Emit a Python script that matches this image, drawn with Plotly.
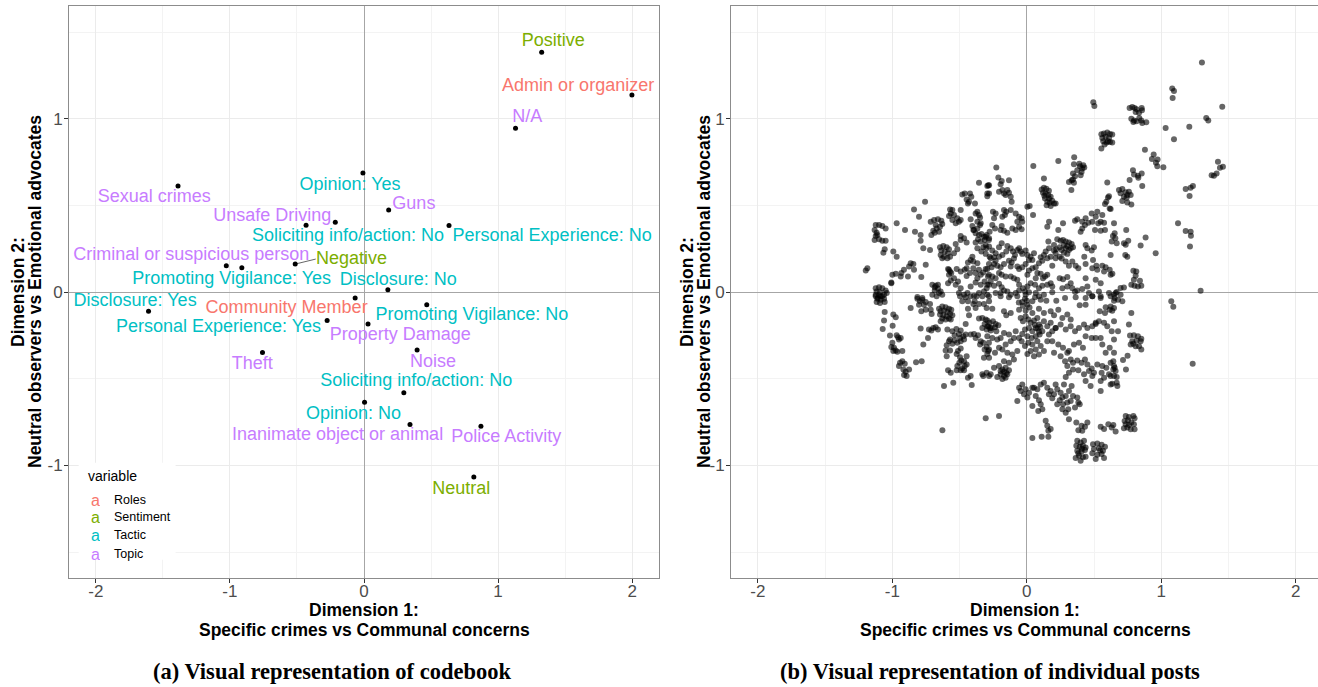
import plotly.graph_objects as go

# ---------------- categories / colours ----------------
categories = ["Roles", "Sentiment", "Tactic", "Topic"]
category_colors = ["#F8766D", "#7CAE00", "#00BFC4", "#C77CFF"]

# ---------------- panel (a): codebook ----------------
code_labels = [
    "Positive", "Admin or organizer", "N/A", "Opinion: Yes", "Sexual crimes",
    "Guns", "Unsafe Driving", "Soliciting info/action: No", "Personal Experience: No",
    "Criminal or suspicious person", "Negative", "Promoting Vigilance: Yes",
    "Disclosure: No", "Disclosure: Yes", "Community Member", "Promoting Vigilance: No",
    "Personal Experience: Yes", "Property Damage", "Theft", "Noise",
    "Soliciting info/action: No", "Opinion: No", "Inanimate object or animal",
    "Police Activity", "Neutral",
]
code_category = [
    "Sentiment", "Roles", "Topic", "Tactic", "Topic",
    "Topic", "Topic", "Tactic", "Tactic",
    "Topic", "Sentiment", "Tactic",
    "Tactic", "Tactic", "Roles", "Tactic",
    "Tactic", "Topic", "Topic", "Topic",
    "Tactic", "Tactic", "Topic",
    "Topic", "Sentiment",
]
code_x = [1.325, 1.998, 1.130, -0.008, -1.387, 0.184, -0.214, -0.432, 0.634,
          -1.027, -0.513, -0.911, 0.178, -1.607, -0.066, 0.468, -0.275, 0.030,
          -0.757, 0.396, 0.297, 0.004, 0.343, 0.872, 0.819]
code_y = [1.383, 1.136, 0.944, 0.686, 0.611, 0.473, 0.402, 0.385, 0.383,
          0.151, 0.161, 0.140, 0.013, -0.111, -0.035, -0.073, -0.165, -0.184,
          -0.349, -0.335, -0.581, -0.636, -0.765, -0.774, -1.067]
# repelled label positions
label_x = [1.411, 1.597, 1.217, -0.104, -1.564, 0.372, -0.684, -0.119, 1.403,
           -1.288, -0.093, -0.987, 0.256, -1.707, -0.577, 0.805, -1.085, 0.271,
           -0.833, 0.514, 0.390, -0.078, -0.197, 1.061, 0.726]
label_y = [1.446, 1.187, 1.009, 0.615, 0.546, 0.503, 0.438, 0.318, 0.318,
           0.213, 0.186, 0.071, 0.065, -0.057, -0.098, -0.136, -0.207, -0.251,
           -0.416, -0.406, -0.514, -0.705, -0.830, -0.839, -1.140]
# leader segment for "Negative"
negative_segment_x = [-0.513, -0.360]
negative_segment_y = [0.161, 0.190]

# ---------------- panel (b): individual posts ----------------
posts_upper_right = [
    (1.302, 1.324), (0.494, 1.094), (0.502, 1.073), (1.081, 1.174), (1.094, 1.159), (1.084, 1.119), (1.453, 1.069),
    (0.764, 1.061), (0.784, 1.067), (0.801, 1.061), (0.816, 1.054), (0.854, 1.061), (0.856, 1.048), (0.809, 1.038),
    (0.834, 1.034), (0.777, 1.000), (0.797, 0.990), (0.816, 0.985), (0.836, 1.004), (0.851, 0.990), (0.858, 0.975),
    (0.888, 0.979), (0.792, 0.981),
    (1.334, 1.004), (1.349, 0.990), (1.032, 0.946), (1.208, 0.954), (1.094, 0.881),
    (0.554, 0.910), (0.573, 0.914), (0.598, 0.920), (0.618, 0.912), (0.635, 0.908), (0.561, 0.889), (0.586, 0.895),
    (0.611, 0.889), (0.568, 0.870), (0.593, 0.862), (0.618, 0.866), (0.635, 0.862), (0.578, 0.851), (0.554, 0.828),
    (0.603, 0.870),
    (0.878, 0.820), (0.943, 0.793), (0.972, 0.764), (0.930, 0.768),
    (0.789, 0.703), (0.797, 0.678), (0.826, 0.671), (0.854, 0.684), (0.829, 0.659), (0.764, 0.646), (0.858, 0.611),
    (0.960, 0.745), (0.970, 0.726), (1.015, 0.720),
    (0.685, 0.588), (0.710, 0.594), (0.735, 0.575), (0.747, 0.559), (0.697, 0.569), (0.772, 0.559), (0.722, 0.550),
    (0.742, 0.544), (0.759, 0.579),
    (1.181, 0.594), (1.218, 0.602), (1.235, 0.611), (1.210, 0.554),
    (1.421, 0.751), (1.458, 0.722), (1.436, 0.717), (1.411, 0.684), (1.374, 0.674), (1.391, 0.671),
    (0.352, 0.778),
]

posts_right_edge = [
    (0.710, 0.525), (0.747, 0.517), (0.777, 0.505),
    (0.623, 0.479), (1.124, 0.396), (1.181, 0.352), (1.218, 0.348), (1.220, 0.325), (1.213, 0.262),
    (0.653, 0.339), (0.658, 0.310), (0.668, 0.281), (0.739, 0.358), (0.722, 0.281), (0.735, 0.272), (0.754, 0.295),
    (0.883, 0.314), (0.846, 0.268), (0.732, 0.214), (0.747, 0.203), (0.623, 0.214), (0.958, 0.224),
    (0.792, 0.122), (0.814, 0.118), (0.809, 0.094), (0.796, 0.070), (0.777, 0.042), (0.801, 0.036), (0.826, 0.032),
    (0.851, 0.036), (0.841, 0.065), (0.623, 0.099),
    (0.697, 0.023), (0.722, 0.026), (0.660, -0.006), (0.697, -0.016), (0.653, -0.035), (0.678, -0.044), (0.710, -0.054),
    (0.623, -0.083), (0.635, -0.108), (0.668, 0.000),
    (1.292, 0.007), (1.074, -0.054), (1.089, -0.085), (0.777, -0.121), (0.648, -0.169), (0.759, -0.188), (0.678, -0.226),
    (0.767, -0.251), (0.796, -0.249), (0.826, -0.255), (0.851, -0.269), (0.784, -0.284), (0.816, -0.280), (0.846, -0.284),
    (0.772, -0.303), (0.809, -0.313), (0.834, -0.313), (0.851, -0.332), (0.792, -0.299),
    (0.749, -0.368), (0.715, -0.393), (0.737, -0.447), (1.233, -0.414),
    (0.643, -0.399), (0.653, -0.437), (0.643, -0.447), (0.660, -0.456), (0.623, -0.485), (0.668, -0.491), (0.635, -0.529),
    (0.668, -0.523), (0.673, -0.543), (0.623, -0.533),
    (0.735, -0.715), (0.759, -0.721), (0.792, -0.715), (0.801, -0.728), (0.727, -0.744), (0.752, -0.740), (0.777, -0.753),
    (0.796, -0.763), (0.722, -0.786), (0.747, -0.782), (0.772, -0.792), (0.801, -0.792), (0.759, -0.767), (0.735, -0.763),
    (0.643, -0.767), (0.660, -0.805),
]

posts_upper_left = [
    (-0.356, 0.630), (-0.294, 0.611), (-0.281, 0.616),
    (-0.480, 0.563), (-0.462, 0.568), (-0.423, 0.568), (-0.413, 0.549), (-0.448, 0.534), (-0.430, 0.521), (-0.438, 0.511),
    (-0.281, 0.568), (-0.294, 0.553), (-0.757, 0.521),
    (-0.386, 0.511), (-0.368, 0.463), (-0.381, 0.453), (-0.356, 0.444), (-0.348, 0.430), (-0.368, 0.406), (-0.343, 0.396),
    (-0.839, 0.476), (-0.802, 0.434),
    (-0.579, 0.438), (-0.571, 0.476), (-0.566, 0.453), (-0.554, 0.473), (-0.542, 0.444), (-0.517, 0.425), (-0.505, 0.406),
    (-0.554, 0.415), (-0.529, 0.396), (-0.492, 0.473), (-0.492, 0.415),
    (-0.715, 0.406), (-0.690, 0.415), (-0.661, 0.419), (-0.636, 0.411), (-0.629, 0.392), (-0.646, 0.377), (-0.671, 0.367),
    (-0.696, 0.354), (-0.710, 0.329), (-0.685, 0.342), (-0.653, 0.348), (-0.678, 0.386),
    (-0.968, 0.396),
    (-0.418, 0.419), (-0.405, 0.381), (-0.368, 0.367), (-0.348, 0.386), (-0.398, 0.358), (-0.381, 0.339),
    (-0.393, 0.358), (-0.356, 0.329), (-0.338, 0.335), (-0.319, 0.319), (-0.314, 0.300), (-0.343, 0.291), (-0.363, 0.304),
    (-0.381, 0.285), (-0.299, 0.329), (-0.281, 0.310), (-0.306, 0.271), (-0.324, 0.258), (-0.281, 0.262), (-0.368, 0.252),
    (-0.338, 0.233),
    (-1.124, 0.386), (-1.099, 0.386), (-1.075, 0.381), (-1.050, 0.367), (-1.132, 0.358), (-1.117, 0.342), (-1.124, 0.323),
    (-1.132, 0.300), (-1.099, 0.304), (-1.075, 0.296), (-1.050, 0.296), (-1.112, 0.329),
    (-0.906, 0.358), (-0.832, 0.348), (-0.790, 0.329), (-0.790, 0.296), (-0.770, 0.252), (-0.720, 0.243),
    (-0.646, 0.258), (-0.621, 0.266), (-0.596, 0.258), (-0.579, 0.247), (-0.636, 0.239), (-0.611, 0.233), (-0.586, 0.224),
    (-0.641, 0.214), (-0.616, 0.204), (-0.591, 0.195), (-0.629, 0.195), (-0.571, 0.204),
    (-0.529, 0.277), (-0.517, 0.247), (-0.542, 0.224), (-0.492, 0.300), (-0.492, 0.323), (-0.467, 0.310), (-0.448, 0.285),
    (-1.057, 0.247), (-1.067, 0.227), (-0.993, 0.233), (-0.968, 0.204), (-1.186, 0.137), (-1.198, 0.124),
    (-0.914, 0.128), (-0.933, 0.109), (-0.864, 0.166), (-0.844, 0.162), (-0.876, 0.147), (-0.839, 0.128), (-0.884, 0.090),
    (-0.752, 0.157),
    (-1.000, 0.099), (-0.975, 0.105), (-1.008, 0.055), (-0.938, 0.090), (-0.785, 0.086),
    (-0.586, 0.132), (-0.579, 0.128), (-0.571, 0.118), (-0.562, 0.109), (-0.579, 0.099), (-0.542, 0.080), (-0.566, 0.066),
    (-0.512, 0.061), (-0.529, 0.042), (-0.586, 0.051), (-0.522, 0.132), (-0.492, 0.118), (-0.462, 0.128), (-0.448, 0.093),
    (-0.423, 0.109),
    (-0.405, 0.204), (-0.418, 0.185), (-0.398, 0.176), (-0.368, 0.166), (-0.438, 0.170), (-0.448, 0.137),
    (-0.398, 0.137), (-0.381, 0.109), (-0.356, 0.128), (-0.343, 0.099), (-0.324, 0.112), (-0.306, 0.132), (-0.289, 0.090),
    (-0.368, 0.080), (-0.314, 0.061), (-0.343, 0.042), (-0.381, 0.055), (-0.418, 0.032), (-0.281, 0.042), (-0.299, 0.022),
    (-1.124, 0.022), (-1.099, 0.028), (-1.075, 0.022), (-1.050, 0.009), (-1.117, 0.003), (-1.092, -0.002), (-1.124, -0.016),
    (-1.087, -0.025), (-1.062, -0.016), (-1.042, -0.006), (-1.107, -0.035),
    (-1.008, 0.051),
    (-0.703, 0.042), (-0.685, 0.028), (-0.678, 0.036), (-0.661, 0.042), (-0.685, 0.009), (-0.641, 0.003), (-0.703, -0.016),
    (-0.671, -0.025), (-0.629, -0.016), (-0.653, -0.006), (-0.661, 0.020),
    (-0.814, -0.029), (-0.777, -0.035),
    (-0.492, 0.022), (-0.505, -0.006), (-0.467, -0.016), (-0.442, -0.006), (-0.393, -0.022), (-0.356, -0.006),
    (-0.319, 0.003), (-0.294, -0.016),
]

posts_upper_center = [
    (-0.227, 0.718), (0.048, 0.727), (0.234, 0.756), (-0.212, 0.660), (-0.187, 0.641), (-0.133, 0.645), (-0.195, 0.622),
    (-0.207, 0.578), (-0.182, 0.588), (-0.145, 0.588), (-0.170, 0.568), (-0.133, 0.572), (-0.120, 0.549), (-0.158, 0.559),
    (-0.287, 0.616), (-0.294, 0.568), (-0.113, 0.521),
    (0.350, 0.737), (0.395, 0.726), (0.420, 0.731), (0.412, 0.712), (0.375, 0.703), (0.343, 0.683), (0.358, 0.668),
    (0.400, 0.674), (0.333, 0.645), (0.343, 0.649), (0.350, 0.630), (0.313, 0.635), (0.427, 0.718), (0.407, 0.693),
    (0.390, 0.740), (0.331, 0.588), (0.127, 0.655),
    (0.110, 0.591), (0.127, 0.601), (0.145, 0.595), (0.164, 0.584), (0.120, 0.572), (0.140, 0.568), (0.160, 0.559),
    (0.177, 0.549), (0.135, 0.540), (0.152, 0.521), (0.170, 0.515), (0.189, 0.526), (0.202, 0.511), (0.177, 0.496),
    (0.214, 0.511), (0.147, 0.501), (0.130, 0.555), (0.165, 0.540),
    (0.603, 0.545), (0.611, 0.553), (0.591, 0.521), (0.581, 0.507), (0.616, 0.482), (0.598, 0.632), (0.004, 0.492),
    (0.021, 0.496), (0.046, 0.444),
    (-0.252, 0.463), (-0.232, 0.453), (-0.170, 0.473), (-0.153, 0.463), (-0.163, 0.444), (-0.182, 0.434), (-0.120, 0.473),
    (-0.083, 0.453), (-0.058, 0.434), (-0.039, 0.425), (-0.071, 0.406), (-0.034, 0.406), (-0.244, 0.425), (-0.257, 0.386),
    (-0.237, 0.367), (-0.195, 0.358), (-0.170, 0.354), (-0.187, 0.381), (-0.058, 0.377), (-0.039, 0.362), (-0.083, 0.358),
    (-0.108, 0.367), (-0.145, 0.342), (-0.277, 0.348), (-0.306, 0.319),
    (0.165, 0.406), (0.269, 0.396), (0.152, 0.377), (0.234, 0.358),
    (0.358, 0.411), (0.375, 0.419), (0.412, 0.406), (0.437, 0.425), (0.432, 0.386), (0.412, 0.367), (0.400, 0.348),
    (0.457, 0.400), (0.487, 0.406), (0.482, 0.453), (0.524, 0.463), (0.561, 0.444), (0.512, 0.434), (0.531, 0.396),
    (0.549, 0.406), (0.574, 0.400), (0.507, 0.358), (0.549, 0.354), (0.581, 0.358), (0.648, 0.396), (0.640, 0.323),
    (0.631, 0.291),
    (0.226, 0.304), (0.251, 0.295), (0.269, 0.300), (0.289, 0.291), (0.313, 0.285), (0.333, 0.277), (0.276, 0.271),
    (0.301, 0.266), (0.326, 0.252), (0.343, 0.258), (0.313, 0.243), (0.289, 0.252), (0.259, 0.243), (0.276, 0.227),
    (0.301, 0.220), (0.244, 0.258),
    (0.160, 0.291), (0.165, 0.252), (0.202, 0.271), (0.202, 0.239), (0.219, 0.247),
    (0.437, 0.271), (0.450, 0.252), (0.482, 0.239), (0.499, 0.258), (0.427, 0.204), (0.492, 0.185),
    (-0.282, 0.300), (-0.301, 0.252), (-0.257, 0.239), (-0.232, 0.224), (-0.277, 0.204), (-0.145, 0.266), (-0.120, 0.252),
    (-0.153, 0.233), (-0.103, 0.233), (-0.058, 0.252), (-0.046, 0.233), (-0.071, 0.243), (-0.088, 0.214), (-0.034, 0.220),
    (-0.009, 0.239), (0.004, 0.214), (0.028, 0.204), (0.016, 0.185), (0.041, 0.185), (0.053, 0.224), (-0.187, 0.281),
    (-0.207, 0.258),
    (0.140, 0.233), (0.127, 0.214), (0.103, 0.201), (0.115, 0.181), (0.090, 0.166), (0.152, 0.195), (0.177, 0.204),
    (0.214, 0.195), (0.214, 0.224), (0.244, 0.204), (0.259, 0.193),
    (-0.306, 0.220), (-0.269, 0.195), (-0.244, 0.201), (-0.232, 0.181), (-0.207, 0.204), (-0.182, 0.214), (-0.244, 0.162),
    (-0.220, 0.151), (-0.282, 0.162), (-0.262, 0.143), (-0.294, 0.132), (-0.195, 0.143), (-0.170, 0.162), (-0.133, 0.181),
    (-0.113, 0.170), (-0.096, 0.193), (-0.120, 0.147), (-0.071, 0.147), (-0.058, 0.132), (-0.034, 0.143), (-0.009, 0.162),
    (0.016, 0.124), (0.041, 0.137), (0.004, 0.099), (0.066, 0.143), (0.078, 0.109), (0.103, 0.105), (0.066, 0.080),
    (0.120, 0.080), (0.135, 0.090), (0.152, 0.099), (0.189, 0.151),
    (0.244, 0.080), (0.269, 0.074), (0.301, 0.086), (0.313, 0.151), (0.338, 0.176), (0.289, 0.176), (0.363, 0.151),
    (0.383, 0.137), (0.437, 0.162), (0.487, 0.137), (0.517, 0.151), (0.524, 0.128), (0.561, 0.151), (0.574, 0.118),
    (0.586, 0.143), (0.616, 0.128), (0.636, 0.105),
    (0.549, 0.051), (0.512, 0.070), (0.437, 0.080), (0.450, 0.032), (0.412, 0.017), (0.375, 0.009), (0.358, 0.001),
    (0.326, 0.051), (0.338, 0.022), (0.301, 0.032), (0.264, 0.022), (0.189, 0.032), (0.177, 0.051), (0.152, 0.042),
    (0.115, 0.036), (0.090, 0.022), (0.061, 0.042), (0.028, 0.051), (0.004, 0.032), (-0.029, 0.022), (-0.058, 0.042),
    (-0.071, 0.070), (-0.096, 0.080), (-0.120, 0.090), (-0.158, 0.090), (-0.187, 0.099), (-0.207, 0.109), (-0.232, 0.080),
    (-0.257, 0.090), (-0.282, 0.099), (-0.269, 0.061), (-0.294, 0.042), (-0.244, 0.036), (-0.207, 0.047), (-0.187, 0.028),
    (-0.170, 0.009), (-0.195, -0.006), (-0.232, -0.006), (-0.145, 0.003), (-0.120, -0.016), (-0.083, -0.006),
    (-0.058, 0.009), (-0.014, 0.003), (-0.009, -0.016), (0.016, -0.002), (0.066, -0.006), (0.090, -0.025),
    (0.127, -0.016), (0.189, -0.002), (0.536, 0.003), (0.462, -0.006), (0.487, -0.025), (0.549, -0.025),
    (0.611, -0.006), (0.648, -0.016),
]

posts_lower_left = [
    (-1.124, -0.025), (-1.099, -0.019), (-1.075, -0.025), (-1.112, -0.039), (-1.087, -0.044), (-1.062, -0.039),
    (-1.117, -0.058), (-1.092, -0.063), (-1.057, -0.058),
    (-1.057, -0.115), (-1.062, -0.165), (-1.072, -0.213), (-0.993, -0.130), (-0.975, -0.146), (-0.998, -0.194),
    (-1.018, -0.251),
    (-0.968, -0.249), (-0.958, -0.261), (-0.938, -0.265), (-0.951, -0.274),
    (-1.000, -0.293), (-1.008, -0.318), (-0.988, -0.322), (-0.993, -0.341), (-0.963, -0.345), (-0.975, -0.337),
    (-0.926, -0.341),
    (-0.943, -0.408), (-0.951, -0.427), (-0.926, -0.399), (-0.908, -0.414), (-0.918, -0.447), (-0.901, -0.460),
    (-0.876, -0.447), (-0.913, -0.479), (-0.894, -0.485),
    (-0.824, -0.406), (-0.782, -0.399), (-0.864, -0.092),
    (-0.814, -0.039), (-0.795, -0.054), (-0.777, -0.044), (-0.752, -0.058), (-0.765, -0.073), (-0.752, -0.102),
    (-0.720, -0.069), (-0.715, -0.102), (-0.708, -0.127), (-0.785, -0.111), (-0.802, -0.073),
    (-0.653, -0.096), (-0.629, -0.083), (-0.604, -0.088), (-0.579, -0.096), (-0.641, -0.111), (-0.616, -0.107),
    (-0.591, -0.115), (-0.562, -0.102), (-0.646, -0.130), (-0.621, -0.134), (-0.596, -0.140), (-0.571, -0.127),
    (-0.629, -0.153), (-0.604, -0.159), (-0.641, -0.169), (-0.579, -0.153), (-0.554, -0.134), (-0.566, -0.159),
    (-0.790, -0.211), (-0.728, -0.217), (-0.770, -0.303), (-0.735, -0.265), (-0.696, -0.207), (-0.678, -0.203),
    (-0.661, -0.217), (-0.710, -0.222),
    (-0.591, -0.217), (-0.554, -0.226), (-0.524, -0.213), (-0.505, -0.242), (-0.537, -0.249), (-0.492, -0.222),
    (-0.579, -0.284), (-0.554, -0.299), (-0.571, -0.274), (-0.596, -0.307), (-0.537, -0.280), (-0.517, -0.293),
    (-0.492, -0.284), (-0.497, -0.265), (-0.472, -0.255), (-0.455, -0.245), (-0.467, -0.274),
    (-0.604, -0.337), (-0.571, -0.337), (-0.596, -0.370), (-0.512, -0.341), (-0.492, -0.326), (-0.522, -0.357),
    (-0.497, -0.376), (-0.487, -0.395), (-0.502, -0.408), (-0.467, -0.399), (-0.462, -0.427), (-0.480, -0.441),
    (-0.448, -0.418), (-0.517, -0.427), (-0.492, -0.452), (-0.448, -0.370), (-0.522, -0.452), (-0.467, -0.452),
    (-0.586, -0.452), (-0.566, -0.466), (-0.547, -0.523), (-0.616, -0.542), (-0.438, -0.494), (-0.410, -0.537),
    (-0.628, -0.797),
    (-0.497, -0.025), (-0.480, -0.054), (-0.438, -0.054), (-0.455, -0.031), (-0.418, -0.025), (-0.388, -0.054),
    (-0.398, -0.069), (-0.438, -0.096), (-0.381, -0.092), (-0.356, -0.069), (-0.319, -0.069), (-0.299, -0.092),
    (-0.281, -0.054), (-0.331, -0.025), (-0.373, -0.025), (-0.430, -0.134), (-0.455, -0.184), (-0.393, -0.242),
    (-0.418, -0.245), (-0.381, -0.265), (-0.363, -0.249), (-0.343, -0.284), (-0.324, -0.293), (-0.299, -0.318),
    (-0.281, -0.332), (-0.314, -0.332), (-0.348, -0.303), (-0.356, -0.153), (-0.331, -0.150), (-0.314, -0.184),
    (-0.294, -0.197), (-0.299, -0.217), (-0.331, -0.207), (-0.274, -0.207), (-0.306, -0.159),
    (-0.418, -0.485), (-0.324, -0.485), (-0.281, -0.485), (-0.331, -0.475), (-0.299, -0.466), (-0.281, -0.380),
    (-0.319, -0.380), (-0.294, -0.357),
]

posts_lower_center = [
    (-0.282, -0.025), (-0.195, -0.025), (-0.133, -0.031), (-0.071, -0.025), (-0.034, -0.058), (-0.014, -0.039),
    (0.004, -0.073), (0.041, -0.054), (0.061, -0.031), (0.103, -0.044), (0.145, -0.050), (0.219, -0.050),
    (0.284, -0.035), (0.363, -0.031), (0.393, -0.077), (0.437, -0.035), (0.487, -0.025), (0.549, -0.035),
    (0.586, -0.088), (0.623, -0.025), (0.648, -0.050), (-0.257, -0.096), (-0.170, -0.111), (-0.153, -0.134),
    (-0.120, -0.121), (-0.058, -0.102), (-0.009, -0.107), (0.041, -0.121), (0.090, -0.096), (0.127, -0.121),
    (0.177, -0.111), (0.202, -0.134), (0.234, -0.102), (0.264, -0.150), (0.301, -0.130), (0.326, -0.159),
    (0.512, -0.178), (0.542, -0.111), (0.581, -0.121), (0.616, -0.102), (0.648, -0.092), (0.437, -0.073),
    (-0.060, -0.060), (-0.030, -0.080), (0.000, -0.050), (0.020, -0.090), (0.060, -0.190), (0.080, -0.210),
    (0.100, -0.200), (0.090, -0.230),
    (-0.046, -0.150), (-0.029, -0.169), (-0.009, -0.140), (0.011, -0.159), (0.028, -0.178), (0.053, -0.165),
    (0.078, -0.150), (0.090, -0.188), (0.066, -0.207), (0.041, -0.226), (0.016, -0.207), (-0.014, -0.217),
    (-0.034, -0.242), (0.004, -0.255), (0.036, -0.265), (0.066, -0.255), (0.095, -0.245), (0.115, -0.226),
    (0.078, -0.284), (0.041, -0.303), (0.011, -0.293), (-0.014, -0.312), (-0.039, -0.284), (-0.058, -0.265),
    (0.103, -0.312), (0.066, -0.332), (0.028, -0.341), (0.004, -0.357), (0.053, -0.370), (0.090, -0.360),
    (0.127, -0.341), (0.152, -0.284), (0.164, -0.245), (0.189, -0.226), (0.214, -0.207), (0.152, -0.197),
    (0.127, -0.169), (0.177, -0.178),
    (-0.294, -0.255), (-0.257, -0.265), (-0.220, -0.274), (-0.282, -0.293), (-0.207, -0.322), (-0.237, -0.351),
    (-0.287, -0.341), (-0.182, -0.332), (-0.158, -0.303), (-0.120, -0.284), (-0.096, -0.265), (-0.133, -0.245),
    (-0.083, -0.226), (-0.170, -0.236), (-0.195, -0.265), (-0.145, -0.351), (-0.108, -0.360), (-0.071, -0.341),
    (-0.096, -0.389), (-0.133, -0.408), (-0.170, -0.399), (-0.207, -0.427), (-0.244, -0.437), (-0.269, -0.475),
    (-0.195, -0.456), (-0.170, -0.485), (-0.153, -0.466), (-0.133, -0.452), (-0.158, -0.437), (-0.220, -0.491),
    (-0.182, -0.447), (-0.170, -0.460), (-0.145, -0.475), (-0.195, -0.475), (-0.158, -0.494), (-0.182, -0.502),
    (-0.294, -0.165), (-0.277, -0.178), (-0.252, -0.169), (-0.232, -0.184), (-0.287, -0.197), (-0.262, -0.207),
    (-0.237, -0.203), (-0.212, -0.192), (-0.269, -0.222), (-0.227, -0.226),
    (-0.306, -0.728), (-0.207, -0.715), (-0.071, -0.629),
    (-0.021, -0.590), (-0.046, -0.571), (-0.058, -0.552), (-0.034, -0.533), (-0.009, -0.561), (0.004, -0.609),
    (0.016, -0.581), (0.041, -0.552), (0.053, -0.552), (0.078, -0.561), (0.103, -0.533), (0.127, -0.523),
    (0.152, -0.552), (0.177, -0.571), (0.202, -0.590), (0.226, -0.561), (0.251, -0.581), (0.264, -0.609),
    (0.289, -0.600), (0.313, -0.571), (0.333, -0.542), (0.276, -0.533), (0.214, -0.533), (0.164, -0.590),
    (0.189, -0.613), (0.244, -0.625), (0.269, -0.648), (0.301, -0.638), (0.326, -0.629), (0.343, -0.600),
    (0.375, -0.609), (0.383, -0.638), (0.358, -0.667), (0.393, -0.648), (0.066, -0.600), (0.090, -0.625),
    (0.103, -0.648), (0.115, -0.676), (0.085, -0.686), (0.041, -0.657), (0.140, -0.743), (0.152, -0.772),
    (0.160, -0.801), (0.177, -0.791), (0.289, -0.696), (0.313, -0.734), (0.308, -0.676), (0.264, -0.676),
    (0.226, -0.648),
    (0.375, -0.858), (0.400, -0.868), (0.425, -0.858), (0.368, -0.887), (0.393, -0.893), (0.417, -0.887),
    (0.437, -0.897), (0.375, -0.916), (0.407, -0.920), (0.432, -0.912), (0.388, -0.945), (0.363, -0.958),
    (0.417, -0.954), (0.400, -0.973), (0.437, -0.950), (0.383, -0.930), (0.410, -0.905),
    (0.492, -0.878), (0.524, -0.874), (0.556, -0.881), (0.581, -0.893), (0.499, -0.906), (0.536, -0.901),
    (0.566, -0.916), (0.487, -0.931), (0.524, -0.939), (0.556, -0.935), (0.574, -0.958), (0.512, -0.964),
    (0.545, -0.915),
    (0.383, -0.797), (0.412, -0.801), (0.432, -0.778), (0.450, -0.753), (0.368, -0.753), (0.407, -0.772),
    (0.549, -0.778), (0.574, -0.791), (0.606, -0.763), (0.631, -0.782),
    (0.041, -0.843), (0.110, -0.835), (0.160, -0.835),
    (0.284, -0.399), (0.301, -0.427), (0.326, -0.389), (0.343, -0.408), (0.375, -0.395), (0.407, -0.408),
    (0.432, -0.389), (0.450, -0.418), (0.482, -0.441), (0.499, -0.466), (0.462, -0.456), (0.425, -0.475),
    (0.383, -0.452), (0.343, -0.447), (0.313, -0.466), (0.289, -0.491), (0.524, -0.418), (0.561, -0.427),
    (0.591, -0.437), (0.623, -0.408), (0.648, -0.427), (0.556, -0.466), (0.611, -0.475), (0.648, -0.485),
    (0.574, -0.494), (0.549, -0.514), (0.437, -0.514), (0.474, -0.542), (0.549, -0.571), (0.487, -0.485),
    (0.214, -0.207), (0.251, -0.188), (0.289, -0.217), (0.326, -0.197), (0.358, -0.226), (0.388, -0.207),
    (0.425, -0.188), (0.450, -0.207), (0.437, -0.255), (0.482, -0.265), (0.512, -0.265), (0.549, -0.265),
    (0.487, -0.197), (0.512, -0.184), (0.536, -0.169), (0.574, -0.178), (0.598, -0.197), (0.631, -0.226),
    (0.648, -0.274), (0.561, -0.303), (0.616, -0.322), (0.586, -0.351), (0.648, -0.351), (0.350, -0.303),
    (0.388, -0.293), (0.417, -0.322), (0.313, -0.341), (0.269, -0.322), (0.234, -0.303), (0.202, -0.351),
    (0.251, -0.370), (0.301, -0.351), (0.189, -0.284),
]

all_posts = (posts_upper_right + posts_right_edge + posts_upper_left
             + posts_upper_center + posts_lower_left + posts_lower_center)
post_x = [p[0] for p in all_posts]
post_y = [p[1] for p in all_posts]

# ---------------- axis ticks / titles ----------------
x_tick_vals = [-2, -1, 0, 1, 2]
x_tick_text = ["-2", "-1", "0", "1", "2"]
y_tick_vals = [-1, 0, 1]
y_tick_text = ["-1", "0", "1"]
minor_vals = [-1.5, -0.5, 0.5, 1.5]
x_title = ["Dimension 1:", "Specific crimes vs Communal concerns"]
y_title = ["Dimension 2:", "Neutral observers vs Emotional advocates"]
captions = ["(a) Visual representation of codebook", "(b) Visual representation of individual posts"]
legend_title = "variable"

W, H = 1318, 687
FONT = "Liberation Sans, Arial, Helvetica, sans-serif"
SERIF = "Liberation Serif, Times New Roman, serif"

color_of = dict(zip(categories, category_colors))

fig = go.Figure()

# leader line
fig.add_trace(go.Scatter(x=negative_segment_x, y=negative_segment_y, mode="lines",
                         line=dict(color="#666666", width=1), xaxis="x", yaxis="y",
                         showlegend=False, hoverinfo="skip"))
# codebook points
fig.add_trace(go.Scatter(x=code_x, y=code_y, mode="markers",
                         marker=dict(color="black", size=5), xaxis="x", yaxis="y",
                         showlegend=False))
# codebook labels
fig.add_trace(go.Scatter(x=label_x, y=label_y, mode="text", text=code_labels,
                         textposition="middle center",
                         textfont=dict(family=FONT, size=18,
                                       color=[color_of[c] for c in code_category]),
                         xaxis="x", yaxis="y", showlegend=False, cliponaxis=False,
                         hoverinfo="skip"))
# posts
fig.add_trace(go.Scatter(x=post_x, y=post_y, mode="markers",
                         marker=dict(color="rgba(0,0,0,0.6)", size=6, line=dict(width=0)),
                         xaxis="x2", yaxis="y2", showlegend=False))

y_dom = [(H - 578) / H, (H - 6) / H]
common_axis = dict(
    showgrid=True, gridcolor="#EBEBEB", gridwidth=1,
    zeroline=True, zerolinecolor="#A6A6A6", zerolinewidth=1,
    showline=True, linecolor="#8C8C8C", linewidth=1,
    ticks="outside", ticklen=4, tickcolor="#333333", tickwidth=1,
    tickfont=dict(family=FONT, size=17, color="#4D4D4D"),
    minor=dict(tickvals=minor_vals, showgrid=True, gridcolor="#F3F3F3", gridwidth=0.6),
)

fig.update_layout(
    width=W, height=H,
    margin=dict(l=0, r=0, t=0, b=0),
    paper_bgcolor="white", plot_bgcolor="white",
    font=dict(family=FONT, color="black"),
    xaxis=dict(domain=[69 / W, 659 / W], range=[-2.2, 2.2], anchor="y", mirror=True,
               tickvals=x_tick_vals, ticktext=x_tick_text, ticklabelstandoff=-6, **common_axis),
    yaxis=dict(domain=y_dom, range=[-1.65, 1.65], anchor="x", mirror=True,
               tickvals=y_tick_vals, ticktext=y_tick_text, ticklabelstandoff=-2, **common_axis),
    xaxis2=dict(domain=[731 / W, 1.0], range=[-2.2, 2.165], anchor="y2", mirror=True,
                tickvals=x_tick_vals, ticktext=x_tick_text, ticklabelstandoff=-6, **common_axis),
    yaxis2=dict(domain=y_dom, range=[-1.65, 1.65], anchor="x2", mirror=False,
                tickvals=y_tick_vals, ticktext=y_tick_text, ticklabelstandoff=-2, **common_axis),
    showlegend=False,
)

# legend box for panel (a)
fig.add_shape(type="rect", xref="x", yref="y", x0=-2.128, x1=-1.405, y0=-1.544, y1=-0.985,
              fillcolor="white", line=dict(width=0), layer="above")
annotations = [dict(xref="x", yref="y", x=-2.073, y=-1.064, text=legend_title, showarrow=False,
                    xanchor="left", yanchor="middle", font=dict(family=FONT, size=14, color="black"))]
legend_item_y = [-1.198, -1.300, -1.404, -1.510]
for cat, col, yy in zip(categories, category_colors, legend_item_y):
    annotations.append(dict(xref="x", yref="y", x=-2.003, y=yy, text="a", showarrow=False,
                            xanchor="center", yanchor="middle", height=16,
                            font=dict(family=FONT, size=16, color=col)))
    annotations.append(dict(xref="x", yref="y", x=-1.879, y=yy, text=cat, showarrow=False,
                            xanchor="left", yanchor="middle",
                            font=dict(family=FONT, size=12.5, color="black")))


def px(xp):
    return xp / W


def py(yp):
    return (H - yp) / H


# axis titles (paper coordinates)
for cx, ycx1, ycx2 in [(364, 18, 35), (1025, 687, 704)]:
    annotations.append(dict(xref="paper", yref="paper", x=px(cx), y=py(610), text="<b>%s</b>" % x_title[0],
                            showarrow=False, xanchor="center", yanchor="middle",
                            font=dict(family=FONT, size=17.5, color="black")))
    annotations.append(dict(xref="paper", yref="paper", x=px(cx), y=py(630), text="<b>%s</b>" % x_title[1],
                            showarrow=False, xanchor="center", yanchor="middle",
                            font=dict(family=FONT, size=17.5, color="black")))
    annotations.append(dict(xref="paper", yref="paper", x=px(ycx1), y=py(292), text="<b>%s</b>" % y_title[0],
                            showarrow=False, xanchor="center", yanchor="middle", textangle=-90,
                            font=dict(family=FONT, size=17.5, color="black")))
    annotations.append(dict(xref="paper", yref="paper", x=px(ycx2), y=py(292), text="<b>%s</b>" % y_title[1],
                            showarrow=False, xanchor="center", yanchor="middle", textangle=-90,
                            font=dict(family=FONT, size=17.5, color="black")))

# sub-figure captions
for cap, cx in zip(captions, [332, 990]):
    annotations.append(dict(xref="paper", yref="paper", x=px(cx), y=py(671), text="<b>%s</b>" % cap,
                            showarrow=False, xanchor="center", yanchor="middle",
                            font=dict(family=SERIF, size=22.5, color="black")))

fig.update_layout(annotations=annotations)

fig.write_html("out.html")
